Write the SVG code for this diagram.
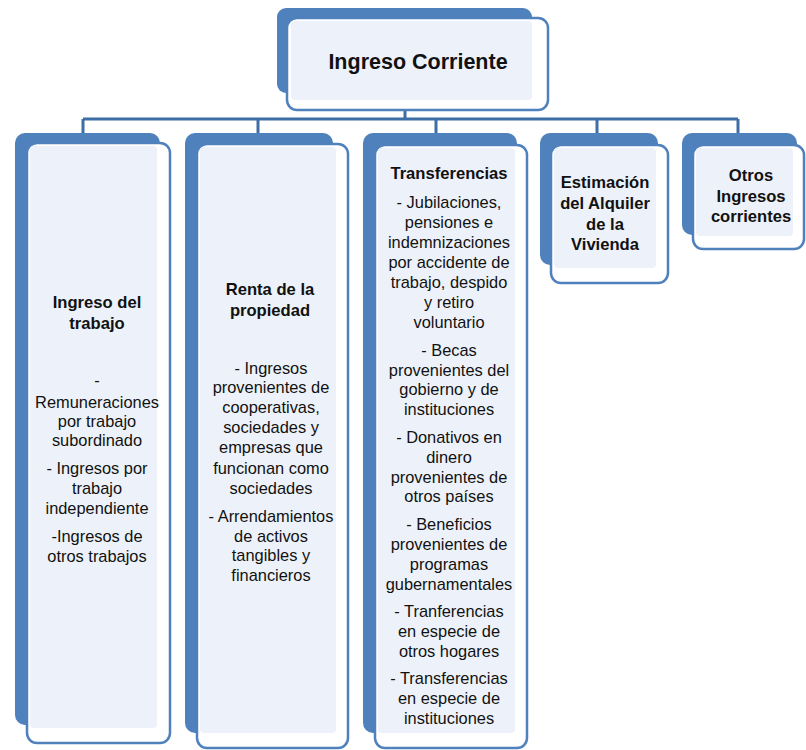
<svg xmlns="http://www.w3.org/2000/svg" width="806" height="750" viewBox="0 0 806 750">
<style>
.back{fill:#4f81bd}
.front{fill:#ffffff;stroke:#4f81bd;stroke-width:2.5}
.inner{fill:#edf1f9}
.conn{stroke:#3e6ea6;stroke-width:3;fill:none}
text{font-family:"Liberation Sans",Arial,sans-serif;fill:#111111;text-anchor:middle}
.t{font-size:16.4px}
.h{font-size:16.6px;font-weight:bold}
.top{font-size:21.5px;font-weight:bold}
</style>
<rect width="806" height="750" fill="#ffffff"/>
<g id="connectors">
<path class="conn" d="M405 108V119M83 119H738M83 119V134M258 119V134M436 119V134M597 119V134M738 119V134"/>
</g>
<g id="ingreso-corriente">
<rect class="back" x="277" y="8" width="255" height="85" rx="9"/>
<rect class="front" x="287" y="18" width="261" height="92" rx="10"/>
<rect class="inner" x="291" y="21" width="241" height="79" rx="4"/>
<text class="top" x="418" y="69">Ingreso Corriente</text>
</g>
<g id="ingreso-trabajo">
<rect class="back" x="15" y="133" width="145" height="592" rx="10"/>
<rect class="front" x="27" y="143" width="143" height="600" rx="10"/>
<rect class="inner" x="30" y="146" width="127" height="582" rx="4"/>
<text class="h" x="97" y="308">Ingreso del</text>
<text class="h" x="97" y="329">trabajo</text>
<text class="t" x="97" y="386">-</text>
<text class="t" x="97" y="408">Remuneraciones</text>
<text class="t" x="97" y="427">por trabajo</text>
<text class="t" x="97" y="446">subordinado</text>
<text class="t" x="97" y="474">- Ingresos por</text>
<text class="t" x="97" y="494">trabajo</text>
<text class="t" x="97" y="514">independiente</text>
<text class="t" x="97" y="542">-Ingresos de</text>
<text class="t" x="97" y="562">otros trabajos</text>
</g>
<g id="renta-propiedad">
<rect class="back" x="185" y="133" width="148" height="600" rx="10"/>
<rect class="front" x="197" y="144" width="151" height="604" rx="10"/>
<rect class="inner" x="200" y="147" width="136" height="586" rx="4"/>
<text class="h" x="270" y="295">Renta de la</text>
<text class="h" x="270" y="316">propiedad</text>
<text class="t" x="271" y="374">- Ingresos</text>
<text class="t" x="271" y="393">provenientes de</text>
<text class="t" x="271" y="413">cooperativas,</text>
<text class="t" x="271" y="433">sociedades y</text>
<text class="t" x="271" y="453">empresas que</text>
<text class="t" x="271" y="474">funcionan como</text>
<text class="t" x="271" y="494">sociedades</text>
<text class="t" x="271" y="522">- Arrendamientos</text>
<text class="t" x="271" y="542">de activos</text>
<text class="t" x="271" y="561">tangibles y</text>
<text class="t" x="271" y="581">financieros</text>
</g>
<g id="transferencias">
<rect class="back" x="363" y="133" width="154" height="600" rx="10"/>
<rect class="front" x="375" y="145" width="152" height="603" rx="10"/>
<rect class="inner" x="378" y="148" width="137" height="585" rx="4"/>
<text class="h" x="449" y="179">Transferencias</text>
<text class="t" x="449" y="208">- Jubilaciones,</text>
<text class="t" x="449" y="228">pensiones e</text>
<text class="t" x="449" y="248">indemnizaciones</text>
<text class="t" x="449" y="268">por accidente de</text>
<text class="t" x="449" y="288">trabajo, despido</text>
<text class="t" x="449" y="308">y retiro</text>
<text class="t" x="449" y="328">voluntario</text>
<text class="t" x="449" y="356">- Becas</text>
<text class="t" x="449" y="376">provenientes del</text>
<text class="t" x="449" y="395">gobierno y de</text>
<text class="t" x="449" y="415">instituciones</text>
<text class="t" x="449" y="443">- Donativos en</text>
<text class="t" x="449" y="463">dinero</text>
<text class="t" x="449" y="483">provenientes de</text>
<text class="t" x="449" y="502">otros países</text>
<text class="t" x="449" y="530">- Beneficios</text>
<text class="t" x="449" y="550">provenientes de</text>
<text class="t" x="449" y="570">programas</text>
<text class="t" x="449" y="590">gubernamentales</text>
<text class="t" x="449" y="617">- Tranferencias</text>
<text class="t" x="449" y="637">en especie de</text>
<text class="t" x="449" y="657">otros hogares</text>
<text class="t" x="449" y="684">- Transferencias</text>
<text class="t" x="449" y="704">en especie de</text>
<text class="t" x="449" y="724">instituciones</text>
</g>
<g id="estimacion-alquiler">
<rect class="back" x="540" y="133" width="118" height="132" rx="10"/>
<rect class="front" x="551" y="145" width="117" height="138" rx="10"/>
<rect class="inner" x="554" y="148" width="102" height="120" rx="4"/>
<text class="h" x="605" y="188">Estimación</text>
<text class="h" x="605" y="209">del Alquiler</text>
<text class="h" x="605" y="230">de la</text>
<text class="h" x="605" y="250">Vivienda</text>
</g>
<g id="otros-ingresos">
<rect class="back" x="682" y="133" width="115" height="102" rx="10"/>
<rect class="front" x="693" y="145" width="111" height="104" rx="10"/>
<rect class="inner" x="696" y="148" width="97" height="88" rx="4"/>
<text class="h" x="751" y="181">Otros</text>
<text class="h" x="751" y="202">Ingresos</text>
<text class="h" x="751" y="222">corrientes</text>
</g>
</svg>
